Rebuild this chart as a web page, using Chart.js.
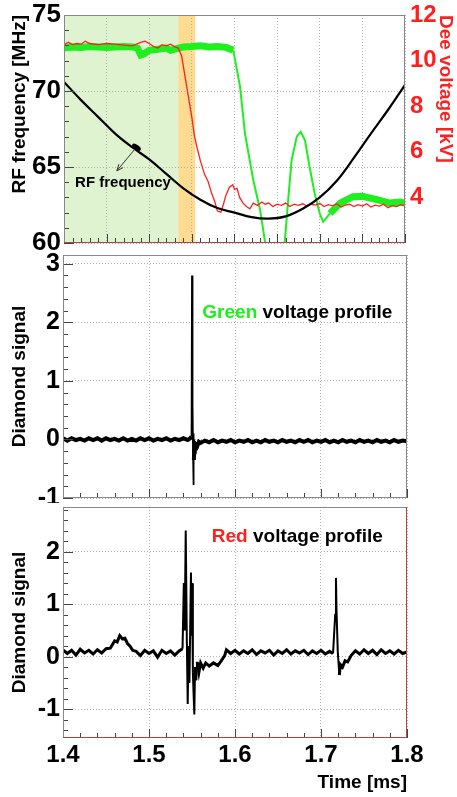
<!DOCTYPE html>
<html>
<head>
<meta charset="utf-8">
<script src="https://cdn.jsdelivr.net/npm/chart.js@4.4.1/dist/chart.umd.min.js"></script>
<style>
  html, body { margin: 0; padding: 0; background: #fff; }
  .pane { position: absolute; left: 0; width: 457px; }
  #top { top: 0; height: 250px; }
  #mid { top: 250px; height: 253px; }
  #bot { top: 500px; height: 297px; }
</style>
</head>
<body>
<div class="pane" id="top"><canvas id="rfChart"></canvas></div>
<div class="pane" id="mid"><canvas id="greenChart"></canvas></div>
<div class="pane" id="bot"><canvas id="redChart"></canvas></div>
<script>
// ---- data ----
const timeMin = 1.4;
const timeMax = 1.8;
const xTicks = [1.4, 1.5, 1.6, 1.7, 1.8];
const rfTicks = [60, 65, 70, 75];
const deeTicks = [4, 6, 8, 10, 12];
const midTicks = [-1, 0, 1, 2, 3];
const botTicks = [-1, 0, 1, 2];

// shaded time windows in the top panel
const greenWindow = [1.4, 1.534];
const orangeWindow = [1.534, 1.554];

// RF frequency [MHz]
const rfTime = [1.40, 1.42, 1.44, 1.46, 1.48, 1.50, 1.52, 1.54, 1.56, 1.58, 1.60,
                1.62, 1.64, 1.66, 1.68, 1.70, 1.72, 1.74, 1.76, 1.78, 1.80];
const rfFreq = [70.6, 69.4, 68.3, 67.2, 66.3, 65.5, 64.55, 63.6, 62.85, 62.3, 62.0,
                61.7, 61.6, 61.75, 62.25, 63.0, 64.1, 65.6, 67.2, 68.75, 70.4];

// Dee voltage, green profile [kV]
const greenTime = [1.400, 1.410, 1.420, 1.430, 1.440, 1.450, 1.460, 1.470, 1.480, 1.486,
                   1.490, 1.494, 1.500, 1.510, 1.520, 1.525, 1.530, 1.540, 1.550, 1.560,
                   1.570, 1.580, 1.590, 1.5985, 1.6065, 1.6123, 1.622, 1.630, 1.6358, 1.642,
                   1.647, 1.653, 1.659, 1.663, 1.667, 1.673, 1.6776, 1.6827, 1.688, 1.694,
                   1.700, 1.704, 1.712, 1.724, 1.739, 1.750, 1.767, 1.782, 1.794, 1.800];
const greenVolt = [10.55, 10.6, 10.58, 10.62, 10.6, 10.57, 10.6, 10.62, 10.6, 10.55,
                   10.25, 10.3, 10.45, 10.5, 10.55, 10.45, 10.5, 10.6, 10.62, 10.65,
                   10.6, 10.62, 10.58, 10.46, 8.86, 6.8, 4.76, 3.45, 2.06, 1.0,
                   0.6, 1.0, 2.06, 3.9, 5.64, 6.66, 6.88, 6.5, 5.35, 4.18,
                   3.3, 2.93, 3.3, 3.75, 4.03, 4.05, 3.9, 3.75, 3.8, 3.75];

// Dee voltage, red profile [kV]
const redTime = [1.400, 1.405, 1.410, 1.415, 1.420, 1.425, 1.430, 1.440, 1.450, 1.460,
                 1.470, 1.480, 1.490, 1.495, 1.500, 1.505, 1.510, 1.515, 1.520, 1.525,
                 1.530, 1.534, 1.538, 1.542, 1.546, 1.550, 1.553, 1.556, 1.560, 1.565,
                 1.569, 1.573, 1.577, 1.580, 1.584, 1.587, 1.590, 1.594, 1.598, 1.600,
                 1.603, 1.606, 1.610, 1.614, 1.618, 1.622, 1.627, 1.632, 1.636, 1.640,
                 1.645, 1.650, 1.655, 1.660, 1.665, 1.670, 1.675, 1.680, 1.685, 1.690,
                 1.695, 1.700, 1.705, 1.710, 1.715, 1.720, 1.725, 1.730, 1.735, 1.740,
                 1.745, 1.750, 1.755, 1.760, 1.765, 1.770, 1.775, 1.780, 1.785, 1.790,
                 1.795, 1.800];
const redVolt = [10.70, 10.80, 10.70, 10.75, 10.72, 10.85, 10.75, 10.70, 10.75, 10.72,
                 10.68, 10.65, 10.80, 10.85, 10.75, 10.62, 10.55, 10.70, 10.65, 10.72,
                 10.60, 10.55, 10.20, 9.30, 8.40, 7.50, 6.70, 6.20, 5.60, 5.00,
                 4.70, 4.20, 3.80, 3.40, 3.35, 3.70, 4.10, 4.45, 4.55, 4.35,
                 4.40, 4.00, 3.75, 3.60, 3.50, 3.75, 3.65, 3.80, 3.70, 3.75,
                 3.60, 3.70, 3.65, 3.75, 3.60, 3.70, 3.65, 3.72, 3.62, 3.70,
                 3.66, 3.74, 3.60, 3.68, 3.63, 3.72, 3.58, 3.66, 3.70, 3.60,
                 3.68, 3.62, 3.72, 3.58, 3.66, 3.62, 3.70, 3.55, 3.64, 3.60,
                 3.68, 3.64];

// diamond signal with the green voltage profile
const diamGreenTime = [1.400, 1.405, 1.410, 1.415, 1.420, 1.425, 1.430, 1.435, 1.440, 1.445,
                       1.450, 1.455, 1.460, 1.465, 1.470, 1.475, 1.480, 1.485, 1.490, 1.495,
                       1.500, 1.505, 1.510, 1.515, 1.520, 1.525, 1.530, 1.535, 1.540, 1.545,
                       1.548, 1.5495, 1.5500, 1.5503, 1.5506, 1.5509, 1.5512, 1.5515, 1.5518, 1.5522,
                       1.5527, 1.553, 1.554, 1.556, 1.558,
                       1.560, 1.565, 1.570, 1.575, 1.580, 1.585, 1.590, 1.595, 1.600, 1.605,
                       1.610, 1.615, 1.620, 1.625, 1.630, 1.635, 1.640, 1.645, 1.650, 1.655,
                       1.660, 1.665, 1.670, 1.675, 1.680, 1.685, 1.690, 1.695, 1.700, 1.705,
                       1.710, 1.715, 1.720, 1.725, 1.730, 1.735, 1.740, 1.745, 1.750, 1.755,
                       1.760, 1.765, 1.770, 1.775, 1.780, 1.785, 1.790, 1.795, 1.800];
const diamGreenSig = [0.02, -0.02, 0.02, -0.01, 0.01, -0.02, 0.02, -0.01, 0.02, -0.02,
                      0.02, -0.01, 0.01, -0.02, 0.02, -0.02, 0.01, -0.02, 0.02, -0.01,
                      0.02, -0.02, 0.01, -0.01, 0.02, -0.02, 0.01, -0.01, 0.02, -0.01,
                      0.02, 0.05, 2.80, 0.40, 2.50, 0.60, -0.20, -0.78, 0.10, -0.35,
                      -0.12, -0.25, -0.08, -0.12, -0.04,
                      -0.06, -0.02, -0.05, -0.01, -0.05, -0.02, -0.04, -0.01, -0.05, -0.02,
                      -0.04, -0.01, -0.05, -0.02, -0.05, -0.01, -0.04, -0.02, -0.05, -0.01,
                      -0.04, -0.02, -0.05, -0.01, -0.04, -0.01, -0.05, -0.02, -0.04, -0.01,
                      -0.05, -0.02, -0.05, -0.01, -0.04, -0.02, -0.05, -0.01, -0.04, -0.02,
                      -0.05, -0.01, -0.04, -0.02, -0.05, -0.01, -0.04, -0.02, -0.03];

// diamond signal with the red voltage profile
const diamRedTime = [1.400, 1.405, 1.410, 1.415, 1.420, 1.425, 1.430, 1.435, 1.440, 1.445,
                     1.450, 1.455, 1.460, 1.463, 1.466, 1.469, 1.472, 1.475, 1.478, 1.481,
                     1.485, 1.490, 1.495, 1.500, 1.505, 1.510, 1.515, 1.520, 1.525, 1.530,
                     1.535, 1.539, 1.5405, 1.5415, 1.5427, 1.544, 1.545, 1.546, 1.547, 1.5488,
                     1.5495, 1.550, 1.551, 1.5527, 1.5535, 1.5545, 1.556, 1.558, 1.560, 1.563,
                     1.566, 1.570, 1.575, 1.580, 1.584, 1.588, 1.590, 1.595, 1.600, 1.605,
                     1.610, 1.615, 1.620, 1.625, 1.630, 1.635, 1.640, 1.645, 1.650, 1.655,
                     1.660, 1.665, 1.670, 1.675, 1.680, 1.685, 1.690, 1.695, 1.700, 1.705,
                     1.710, 1.714, 1.7165, 1.7174, 1.718, 1.7195, 1.7213, 1.7225, 1.725, 1.728,
                     1.731, 1.735, 1.740, 1.745, 1.750, 1.755, 1.760, 1.765, 1.770, 1.775,
                     1.780, 1.785, 1.790, 1.795, 1.800];
const diamRedSig = [0.13, 0.06, 0.12, 0.03, 0.14, 0.07, 0.12, 0.05, 0.13, 0.07,
                    0.15, 0.16, 0.30, 0.28, 0.40, 0.34, 0.35, 0.25, 0.20, 0.12,
                    0.10, 0.02, 0.12, 0.06, 0.11, -0.01, 0.12, 0.06, 0.11, 0.03,
                    0.11, 0.15, 1.40, 0.50, 2.40, 0.30, -0.90, 0.20, -0.50, 1.60,
                    0.40, 1.40, -0.30, -1.10, -0.20, -0.45, -0.10, -0.30, -0.12, -0.22,
                    -0.12, -0.18, -0.12, -0.17, -0.08, 0.02, 0.13, 0.06, 0.12, 0.05,
                    0.11, 0.06, 0.13, 0.04, 0.11, 0.07, 0.12, 0.03, 0.11, 0.06,
                    0.13, 0.05, 0.11, 0.07, 0.12, 0.04, 0.11, 0.06, 0.12, 0.05,
                    0.10, 0.06, 0.80, 1.50, 0.90, 0.10, -0.35, -0.15, -0.20, -0.08,
                    -0.10, 0.02, 0.11, 0.05, 0.13, 0.06, 0.12, 0.04, 0.13, 0.06,
                    0.11, 0.05, 0.12, 0.06, 0.09];

// ---- look ----
const FONT = "'Liberation Sans', Arial, Helvetica, sans-serif";
const GRID = '#b0b0b0';
const RED = '#ff1f1f';
const GREEN = '#1fee1f';

Chart.defaults.font.family = FONT;
Chart.defaults.font.weight = 'bold';
Chart.defaults.color = '#000';

const pts = (xs, ys) => xs.map((x, i) => ({ x: x, y: ys[i] }));

const noPad = (s) => {
    s.paddingTop = 0;
    s.paddingBottom = 0;
    s.paddingLeft = 0;
    s.paddingRight = 0;
};

const fixedTicks = (values) => (s) => {
    s.ticks = values.map((v) => ({ value: v }));
};

// noisy flat parts look like a thick band, fast swings like a thin trace
const bandWidth = (thick, thin) => (c) =>
    Math.abs(c.p1.parsed.y - c.p0.parsed.y) > 0.3 ? thin : thick;

// shading, inward ROOT-style ticks and the frame
const rootFrame = {
    id: 'rootFrame',
    beforeDraw(chart, args, opts) {
        const { ctx, chartArea: a, scales: { x } } = chart;
        (opts.bands || []).forEach((b) => {
            const x0 = x.getPixelForValue(b.range[0]);
            const x1 = x.getPixelForValue(b.range[1]);
            ctx.fillStyle = b.color;
            ctx.fillRect(x0, a.top, x1 - x0, a.bottom - a.top);
        });
    },
    afterDatasetsDraw(chart, args, opts) {
        const { ctx, chartArea: a, scales: { x, y } } = chart;
        ctx.save();
        ctx.lineWidth = 1;
        ctx.strokeStyle = '#444';

        const n = Math.round((x.max - x.min) / opts.xMinor);
        for (let i = 0; i <= n; i++) {
            const v = x.min + i * opts.xMinor;
            const r = v / opts.xMajor;
            const len = Math.abs(r - Math.round(r)) < 1e-6 ? 9 : 5;
            const px = Math.round(x.getPixelForValue(v)) + 0.5;
            ctx.beginPath();
            ctx.moveTo(px, a.bottom);
            ctx.lineTo(px, a.bottom - len);
            ctx.stroke();
        }

        const first = Math.ceil(y.min / opts.yMinor - 1e-6);
        const last = Math.floor(y.max / opts.yMinor + 1e-6);
        for (let i = first; i <= last; i++) {
            const v = i * opts.yMinor;
            const r = v / opts.yMajor;
            const len = Math.abs(r - Math.round(r)) < 1e-6 ? 10 : 5;
            const py = Math.round(y.getPixelForValue(v)) + 0.5;
            ctx.beginPath();
            ctx.moveTo(a.left, py);
            ctx.lineTo(a.left + len, py);
            ctx.stroke();
        }

        ctx.strokeStyle = '#888';
        ctx.strokeRect(a.left + 0.5, a.top + 0.5, a.right - a.left - 1, a.bottom - a.top - 1);
        (opts.redEdges || []).forEach((e) => {
            ctx.strokeStyle = '#b84040';
            ctx.beginPath();
            if (e === 'bottom') {
                ctx.moveTo(a.left, a.bottom - 0.5);
                ctx.lineTo(a.right, a.bottom - 0.5);
            } else {
                ctx.moveTo(a.right - 0.5, a.top);
                ctx.lineTo(a.right - 0.5, a.bottom);
            }
            ctx.stroke();
        });
        ctx.restore();
    }
};

// text labels and the RF arrow, placed in data coordinates
const notes = {
    id: 'notes',
    afterDatasetsDraw(chart, args, opts) {
        const { ctx, scales } = chart;
        const x = scales.x;
        const y = scales.y;
        ctx.save();
        (opts.labels || []).forEach((l) => {
            ctx.font = 'bold ' + l.size + 'px ' + FONT;
            ctx.textBaseline = 'middle';
            let px = x.getPixelForValue(l.x);
            const py = y.getPixelForValue(l.y);
            l.parts.forEach((p) => {
                ctx.fillStyle = p.color;
                ctx.fillText(p.text, px, py);
                px += ctx.measureText(p.text).width;
            });
        });
        if (opts.arrow) {
            const ax = x.getPixelForValue(opts.arrow.from[0]);
            const ay = y.getPixelForValue(opts.arrow.from[1]);
            const bx = x.getPixelForValue(opts.arrow.to[0]);
            const by = y.getPixelForValue(opts.arrow.to[1]);
            ctx.strokeStyle = '#333';
            ctx.fillStyle = '#000';
            ctx.lineWidth = 1;
            ctx.beginPath();
            ctx.moveTo(ax, ay);
            ctx.lineTo(bx, by);
            ctx.stroke();
            const ang = Math.atan2(by - ay, bx - ax);
            ctx.beginPath();
            ctx.moveTo(bx, by);
            ctx.lineTo(bx - 7 * Math.cos(ang - 0.4), by - 7 * Math.sin(ang - 0.4));
            ctx.moveTo(bx, by);
            ctx.lineTo(bx - 7 * Math.cos(ang + 0.4), by - 7 * Math.sin(ang + 0.4));
            ctx.stroke();
            ctx.beginPath();
            ctx.ellipse(ax, ay, 5, 2.5, 0.6, 0, Math.PI * 2);
            ctx.fill();
        }
        ctx.restore();
    }
};

const timeAxis = (step, withLabels) => ({
    type: 'linear',
    min: timeMin,
    max: timeMax,
    ticks: {
        display: withLabels,
        stepSize: step,
        padding: 3,
        maxRotation: 0,
        autoSkip: false,
        font: { size: 24, weight: 'bold' },
        callback: (v) => xTicks.some((t) => Math.abs(t - v) < 1e-6) ? v.toFixed(1) : ''
    },
    grid: { color: GRID, drawTicks: false },
    border: { display: false, dash: [1, 2] },
    title: {
        display: withLabels,
        text: 'Time [ms]',
        align: 'end',
        font: { size: 19, weight: 'bold' },
        padding: { top: 0, bottom: 3 }
    },
    afterFit: (s) => { s.height = withLabels ? 59 : 0; noPad(s); }
});

const signalAxis = (min, max, tickValues) => ({
    position: 'left',
    min: min,
    max: max,
    afterBuildTicks: fixedTicks(tickValues),
    ticks: {
        padding: 3,
        font: { size: 25, weight: 'bold' },
        callback: (v) => String(v)
    },
    grid: { color: GRID, drawTicks: false },
    border: { display: false, dash: [1, 2] },
    title: {
        display: true,
        text: 'Diamond signal',
        font: { size: 19, weight: 'bold' },
        padding: { top: 8, bottom: 0 }
    },
    afterFit: (s) => { s.width = 63; noPad(s); }
});

const base = {
    responsive: true,
    maintainAspectRatio: false,
    animation: false,
    events: []
};

// ---- top panel: RF frequency and Dee voltages ----
new Chart(document.getElementById('rfChart'), {
    type: 'line',
    data: {
        datasets: [
            {
                label: 'RF frequency',
                data: pts(rfTime, rfFreq),
                yAxisID: 'y',
                borderColor: '#000',
                borderWidth: 2.2,
                tension: 0.4,
                pointRadius: 0,
                clip: 0
            },
            {
                label: 'Red profile',
                data: pts(redTime, redVolt),
                yAxisID: 'y2',
                borderColor: RED,
                borderWidth: 1.3,
                pointRadius: 0,
                clip: 0
            },
            {
                label: 'Green profile',
                data: pts(greenTime, greenVolt),
                yAxisID: 'y2',
                borderColor: GREEN,
                borderWidth: 2,
                pointRadius: 0,
                clip: 0,
                segment: {
                    borderWidth: (c) => (c.p1.parsed.x <= 1.5985 || c.p0.parsed.x >= 1.712) ? 7 : 2
                }
            }
        ]
    },
    options: {
        ...base,
        layout: { padding: { top: 15, bottom: 7, left: 0, right: 0 } },
        plugins: {
            legend: { display: false },
            tooltip: { enabled: false },
            rootFrame: {
                bands: [
                    { range: greenWindow, color: '#e0f3d0' },
                    { range: orangeWindow, color: '#fddc92' }
                ],
                xMinor: 0.01, xMajor: 0.05, yMinor: 1, yMajor: 5,
                redEdges: ['bottom']
            },
            notes: {
                labels: [
                    { x: 1.413, y: 63.95, size: 15, parts: [{ text: 'RF frequency', color: '#000' }] }
                ],
                arrow: { from: [1.485, 66.3], to: [1.462, 64.75] }
            }
        },
        scales: {
            x: timeAxis(0.05, false),
            y: {
                position: 'left',
                min: 60,
                max: 75,
                afterBuildTicks: fixedTicks(rfTicks),
                ticks: { padding: 3, font: { size: 26, weight: 'bold' } },
                grid: { color: GRID, drawTicks: false },
                border: { display: false, dash: [1, 2] },
                title: {
                    display: true,
                    text: 'RF frequency [MHz]',
                    align: 'end',
                    font: { size: 19, weight: 'bold' },
                    padding: { top: 8, bottom: 0 }
                },
                afterFit: (s) => { s.width = 64; noPad(s); }
            },
            y2: {
                position: 'right',
                min: 2,
                max: 12,
                afterBuildTicks: fixedTicks(deeTicks),
                ticks: {
                    padding: 5,
                    color: RED,
                    font: { size: 24, weight: 'bold' }
                },
                grid: { drawOnChartArea: false, drawTicks: false },
                border: { display: false },
                title: {
                    display: true,
                    text: 'Dee voltage [kV]',
                    color: RED,
                    align: 'end',
                    font: { size: 19, weight: 'bold' },
                    padding: { top: 0, bottom: 0 }
                },
                afterFit: (s) => { s.width = 52; noPad(s); }
            }
        }
    },
    plugins: [rootFrame, notes]
});

// ---- middle panel: diamond signal, green profile ----
new Chart(document.getElementById('greenChart'), {
    type: 'line',
    data: {
        datasets: [{
            label: 'Diamond signal',
            data: pts(diamGreenTime, diamGreenSig),
            borderColor: '#000',
            borderWidth: 4,
            pointRadius: 0,
            clip: 0,
            segment: { borderWidth: bandWidth(4, 1.8) }
        }]
    },
    options: {
        ...base,
        layout: { padding: { top: 5, bottom: 5, left: 0, right: 50 } },
        plugins: {
            legend: { display: false },
            tooltip: { enabled: false },
            rootFrame: { xMinor: 0.02, xMajor: 0.1, yMinor: 0.2, yMajor: 1 },
            notes: {
                labels: [{
                    x: 1.562, y: 2.17, size: 19,
                    parts: [{ text: 'Green', color: GREEN }, { text: ' voltage profile', color: '#000' }]
                }]
            }
        },
        scales: {
            x: timeAxis(0.1, false),
            y: signalAxis(-1, 3.15, midTicks)
        }
    },
    plugins: [rootFrame, notes]
});

// ---- bottom panel: diamond signal, red profile ----
new Chart(document.getElementById('redChart'), {
    type: 'line',
    data: {
        datasets: [{
            label: 'Diamond signal',
            data: pts(diamRedTime, diamRedSig),
            borderColor: '#000',
            borderWidth: 3,
            pointRadius: 0,
            clip: 0,
            segment: { borderWidth: bandWidth(3, 2) }
        }]
    },
    options: {
        ...base,
        layout: { padding: { top: 7, bottom: 0, left: 0, right: 50 } },
        plugins: {
            legend: { display: false },
            tooltip: { enabled: false },
            rootFrame: { xMinor: 0.02, xMajor: 0.1, yMinor: 0.2, yMajor: 1, redEdges: ['bottom', 'right'] },
            notes: {
                labels: [{
                    x: 1.573, y: 2.29, size: 19,
                    parts: [{ text: 'Red', color: RED }, { text: ' voltage profile', color: '#000' }]
                }]
            }
        },
        scales: {
            x: timeAxis(0.1, true),
            y: signalAxis(-1.55, 2.85, botTicks)
        }
    },
    plugins: [rootFrame, notes]
});
</script>
</body>
</html>
